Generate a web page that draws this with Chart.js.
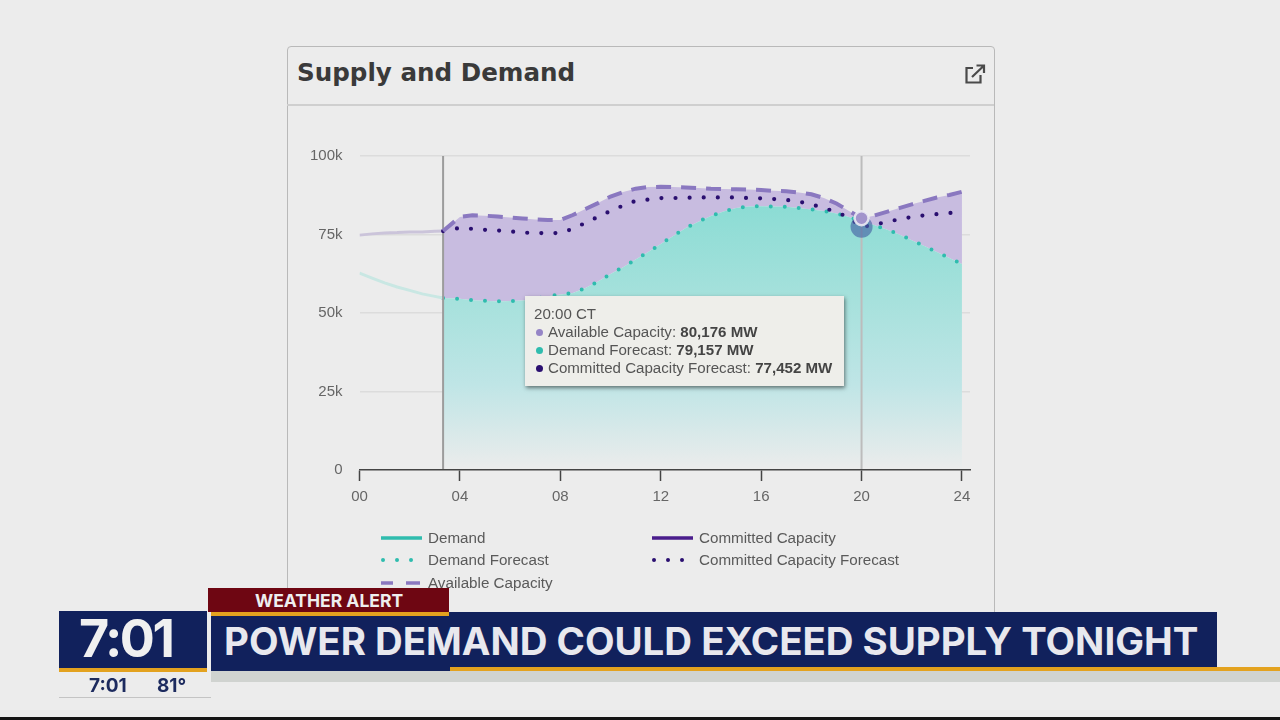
<!DOCTYPE html>
<html>
<head>
<meta charset="utf-8">
<script src="https://cdn.jsdelivr.net/npm/chart.js@4"></script>
<style>
  html, body { margin: 0; padding: 0; background: #ececec; }
  #stage { position: relative; width: 1280px; height: 720px; overflow: hidden; background: #ececec; font-family: "Liberation Sans", sans-serif; }
  .abs { position: absolute; }
  #card { left: 287px; top: 46px; width: 706px; height: 600px; border: 1px solid #b9b9b9; border-radius: 4px; box-sizing: content-box; }
  #cardLine { left: 287px; top: 104px; width: 707px; height: 2px; background: #cfcfcf; }
  #title { left: 297px; top: 58px; font: 700 24.6px "DejaVu Sans", sans-serif; color: #3a3a3a; white-space: nowrap; }
  #wrap { left: 287px; top: 110px; width: 707px; height: 420px; }
  #tip { left: 525px; top: 296px; width: 319px; height: 90px; background: #eeeeea; box-shadow: 1px 2px 4px rgba(0,0,0,.5); color: #555; font-size: 15.1px; box-sizing: border-box; padding: 9px 0 0 9px; line-height: 18px; white-space: nowrap; }
  #tip b { color: #444; }
  #tip i { display: inline-block; width: 7px; height: 7px; border-radius: 50%; margin: 0 5px 1px 2px; }
  .lg { font-size: 15.2px; color: #5a5a5a; white-space: nowrap; }
  .band { background: #11215c; }
  .gold { background: #e3a21f; }
  .tv { font-family: Inter, sans-serif; font-weight: 700; white-space: nowrap; }
</style>
</head>
<body>
<div id="stage">
  <div id="card" class="abs"></div>
  <div id="cardLine" class="abs"></div>
  <div id="title" class="abs">Supply and Demand</div>
  <svg class="abs" style="left:964px;top:64px" width="22" height="20" viewBox="0 0 22 20" fill="none" stroke="#4a4a4a" stroke-width="2.2">
    <path d="M9 4H2.5V18.5H16.5V11"/><path d="M8 13L19 2.5M12.5 1.5H20V9"/>
  </svg>
  <div id="wrap" class="abs"><canvas id="supplyChart" width="707" height="420"></canvas></div>
  <div id="tip" class="abs"></div>
  <div id="legend"></div>

  <!-- lower third -->
  <div class="abs" style="left:211px;top:671px;width:1069px;height:11px;background:#d0d3d0"></div>
  <div class="abs band" style="left:211px;top:612px;width:1006px;height:59px"></div>
  <div class="abs gold" style="left:450px;top:667px;width:830px;height:4px"></div>
  <div class="abs" style="left:208px;top:588px;width:241px;height:24px;background:#6e0612"></div>
  <div class="abs gold" style="left:211px;top:612px;width:238px;height:4px"></div>
  <div class="abs tv" style="left:255px;top:589px;font-size:17.5px;line-height:23px;color:#eee">WEATHER ALERT</div>
  <div class="abs tv" style="left:224px;top:618px;font-size:38.4px;line-height:46px;color:#e8e8ee">POWER DEMAND COULD EXCEED SUPPLY TONIGHT</div>
  <div class="abs band" style="left:59px;top:611px;width:148px;height:57px"></div>
  <div class="abs gold" style="left:59px;top:668px;width:148px;height:4px"></div>
  <div class="abs tv" style="left:79px;top:608px;font-size:52px;letter-spacing:-2.5px;line-height:62px;color:#f0f0f0">7:01</div>
  <div class="abs tv" style="left:89px;top:674px;font-size:19px;line-height:23px;color:#1c2a5e">7:01</div>
  <div class="abs tv" style="left:157px;top:674px;font-size:19px;line-height:23px;color:#1c2a5e">81°</div>
  <div class="abs" style="left:59px;top:697px;width:152px;height:1px;background:#c4c4c4"></div>
  <div class="abs" style="left:0;top:717px;width:1280px;height:3px;background:#141414"></div>
</div>

<script>
const historyHours = [0, 0.5, 1, 1.5, 2, 2.5, 3, 3.33];
const demandActual = [62700, 61100, 59600, 58300, 57200, 56100, 55300, 54800];
const committedActual = [74800, 75200, 75500, 75600, 75800, 75800, 76000, 76100];

const forecastHours = [3.33, 4, 4.5, 5, 5.5, 6, 6.5, 7, 7.5, 8, 8.5, 9, 9.5, 10, 10.5, 11, 11.5, 12,
  12.5, 13, 13.5, 14, 14.5, 15, 15.5, 16, 16.5, 17, 17.5, 18, 18.5, 19, 19.5, 20,
  20.5, 21, 21.5, 22, 22.5, 23, 23.5, 24];
const availableCapacity = [76100, 80600, 81100, 81000, 80700, 80400, 80100, 79800, 79600, 79600, 81200, 83100,
  85000, 87100, 88500, 89600, 90100, 90200, 90100, 90000, 89800, 89600, 89500, 89400, 89300, 89200,
  88900, 88800, 88400, 87800, 86600, 84900, 82500, 80176, 81000, 82200, 83400, 84600, 85700, 86800, 87600, 88600];
const demandForecast = [54800, 54500, 54100, 53900, 53700, 53800, 54000, 54500, 55300, 55900, 56400, 58000,
  60000, 62400, 64600, 67000, 69400, 72000, 74500, 77100, 79100, 80900, 82300, 83400, 83900, 84000,
  83900, 83800, 83400, 83000, 82500, 81700, 80600, 79157, 78000, 76600, 75000, 73200, 71300, 69400, 67500, 65600];
const committedForecast = [76100, 77100, 76800, 76500, 76300, 76000, 75600, 75500, 75400, 75500, 76800, 78700,
  80600, 82500, 84200, 85700, 86100, 86600, 86600, 86700, 86800, 86800, 86800, 86800, 86600, 86500,
  86300, 86000, 85500, 84600, 83400, 82200, 80300, 77452, 78000, 79100, 79800, 80600, 81100, 81500, 81800, 82500];

const yTicks = [0, 25000, 50000, 75000, 100000];
const nowHour = 3.33;
const hoverHour = 20;

const TEAL = '#2fbcae';
const PURPLE = '#8a78c0';
const INDIGO = '#2a0f70';

function points(xs, ys) {
  return xs.map((x, i) => ({ x: x, y: ys[i] }));
}

function gradient(ctx, stops) {
  const area = ctx.chart.chartArea;
  if (!area) return stops[0][1];
  const y = ctx.chart.scales.y;
  const g = ctx.chart.ctx.createLinearGradient(0, y.getPixelForValue(85000), 0, area.bottom);
  stops.forEach(s => g.addColorStop(s[0], s[1]));
  return g;
}

// order: higher is painted first, so the two fills go under every line
const datasets = [
  { label: 'Capacity area', order: 5, data: points(forecastHours, availableCapacity), borderWidth: 0, pointRadius: 0, fill: 5, backgroundColor: '#c8bce0' },
  { label: 'Now', order: 3, data: points([nowHour, nowHour], [0, 100000]), borderColor: '#9c9c9c', borderWidth: 2, pointRadius: 0 },
  { label: 'Hover', order: 3, data: points([hoverHour, hoverHour], [0, 100000]), borderColor: '#bcbcbc', borderWidth: 2, pointRadius: 0 },
  { label: 'Demand', order: 3, data: points(historyHours, demandActual), borderColor: '#c9e7e3', borderWidth: 3, pointRadius: 0 },
  { label: 'Committed Capacity', order: 3, data: points(historyHours, committedActual), borderColor: '#cbc4da', borderWidth: 3, pointRadius: 0 },
  {
    label: 'Demand Forecast', order: 4, data: points(forecastHours, demandForecast), borderColor: TEAL, borderWidth: 4,
    borderDash: [0, 14], borderCapStyle: 'round', pointRadius: 0, fill: 'origin',
    backgroundColor: ctx => gradient(ctx, [[0, '#8bdcd4'], [0.36, '#a6e1dc'], [0.68, '#bfe5e6'], [1, '#ececec']]),
    pointHoverRadius: 4, pointHoverBackgroundColor: TEAL, pointHoverBorderWidth: 0
  },
  {
    label: 'Committed Capacity Forecast', order: 2, data: points(forecastHours, committedForecast), borderColor: INDIGO, borderWidth: 4.2,
    borderDash: [0, 14.1], borderCapStyle: 'round', pointRadius: 0,
    pointHoverRadius: 11, pointHoverBackgroundColor: 'rgba(70,100,165,.65)', pointHoverBorderWidth: 0
  },
  {
    label: 'Available Capacity', order: 1, data: points(forecastHours, availableCapacity), borderColor: PURPLE, borderWidth: 4,
    borderDash: [15, 10], pointRadius: 0,
    pointHoverRadius: 7, pointHoverBackgroundColor: '#a294cc', pointHoverBorderColor: 'rgba(238,238,245,.85)', pointHoverBorderWidth: 2.5
  }
];

// same order as the reference tooltip
const tipDatasets = [7, 5, 6];
const tipNames = ['Available Capacity', 'Demand Forecast', 'Committed Capacity Forecast'];
const tipDots = ['#9585c6', '#2fbcae', '#2a0f70'];

function drawTip(context) {
  const dp = context.tooltip.dataPoints;
  if (!dp || !dp.length) return;
  let html = '<div>20:00 CT</div>';
  tipDatasets.forEach((d, i) => {
    const p = dp.find(q => q.datasetIndex === d);
    html += '<div><i style="background:' + tipDots[i] + '"></i>' + tipNames[i] + ': <b>' +
      Math.round(p.parsed.y).toLocaleString('en-US') + ' MW</b></div>';
  });
  document.getElementById('tip').innerHTML = html;
}

const chart = new Chart(document.getElementById('supplyChart'), {
  type: 'line',
  data: { datasets },
  options: {
    responsive: false,
    animation: false,
    events: [],
    layout: { padding: { top: 46, right: 24, left: 0, bottom: 0 } },
    plugins: {
      legend: { display: false },
      tooltip: { enabled: false, external: drawTip }
    },
    scales: {
      x: {
        type: 'linear', min: 0, max: 24.32,
        grid: { display: true, drawOnChartArea: false, drawTicks: true, tickLength: 11, tickColor: '#444', tickWidth: 1.5 },
        border: { color: '#444', width: 1.5, z: 1 },
        afterFit: s => { s.height = 60; },
        ticks: {
          stepSize: 4, includeBounds: false, maxRotation: 0, color: '#666', padding: 7,
          font: { family: 'Liberation Sans', size: 15 },
          callback: v => String(v).padStart(2, '0')
        }
      },
      y: {
        min: 0, max: 100000,
        afterFit: s => { s.width = 72.5; },
        afterBuildTicks: s => { s.ticks = yTicks.map(v => ({ value: v })); },
        grid: { color: ctx => ctx.tick.value === 0 ? 'rgba(0,0,0,0)' : '#dcdcdc', lineWidth: 1.5, drawTicks: false },
        border: { display: false },
        ticks: {
          color: '#666', padding: 17,
          font: { family: 'Liberation Sans', size: 15 },
          callback: v => v === 0 ? '0' : (v / 1000) + 'k'
        }
      }
    }
  }
});

const hoverIndex = forecastHours.indexOf(hoverHour);
const active = tipDatasets.map(d => ({ datasetIndex: d, index: hoverIndex }));
chart.tooltip.setActiveElements(active, { x: 0, y: 0 });
chart.setActiveElements(active);
chart.render();

// legend, two columns under the chart
const legendNames = ['Demand', 'Demand Forecast', 'Available Capacity', 'Committed Capacity', 'Committed Capacity Forecast'];
const legendKinds = ['solid', 'dots', 'dash', 'solid', 'dots'];
const legendColors = ['#2fbcae', '#2fbcae', '#8a78c0', '#4a1d8c', '#2a0f70'];
const legendBox = document.getElementById('legend');
legendNames.forEach((name, i) => {
  const col = i < 3 ? 0 : 1;
  const row = i < 3 ? i : i - 3;
  const x = col ? 652 : 381;
  const y = 538 + row * 22.3;
  let marks = '';
  if (legendKinds[i] === 'solid') marks = '<line x1="0" x2="41" y1="6" y2="6" stroke-width="3.5"/>';
  if (legendKinds[i] === 'dots') marks = '<g stroke-width="4" stroke-linecap="round"><path d="M2 6h.01M16 6h.01M30 6h.01"/></g>';
  if (legendKinds[i] === 'dash') marks = '<path d="M0 6H12M25 6H39" stroke-width="3.5"/>';
  legendBox.insertAdjacentHTML('beforeend',
    '<svg class="abs" style="left:' + x + 'px;top:' + (y - 6) + 'px" width="42" height="12" stroke="' + legendColors[i] + '">' + marks + '</svg>' +
    '<div class="abs lg" style="left:' + (x + 47) + 'px;top:' + (y - 9) + 'px">' + name + '</div>');
});
</script>
</body>
</html>
